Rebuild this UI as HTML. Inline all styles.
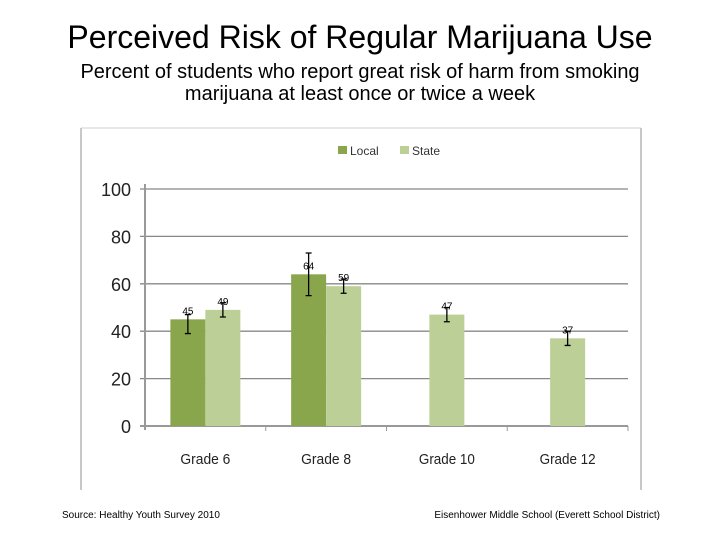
<!DOCTYPE html>
<html><head><meta charset="utf-8"><style>
body{margin:0;width:720px;height:540px;background:#fff;font-family:"Liberation Sans",sans-serif;overflow:hidden}
</style></head><body>
<svg width="720" height="540" xmlns="http://www.w3.org/2000/svg" font-family="Liberation Sans, sans-serif">
<text x="360" y="48" font-size="32" text-anchor="middle">Perceived Risk of Regular Marijuana Use</text>
<text x="360" y="78" font-size="20" text-anchor="middle">Percent of students who report great risk of harm from smoking</text>
<text x="360" y="100" font-size="20" text-anchor="middle">marijuana at least once or twice a week</text>
<line x1="81" y1="128" x2="641" y2="128" stroke="#d0d0d0"/>
<line x1="81" y1="128" x2="81" y2="490" stroke="#c8c8c8" stroke-width="2"/>
<line x1="641" y1="128" x2="641" y2="490" stroke="#c8c8c8" stroke-width="2"/>
<g>
<rect x="338" y="146" width="9" height="8" fill="#8aa64d"/>
<text x="350" y="155" font-size="12" fill="#333">Local</text>
<rect x="400" y="146" width="9" height="8" fill="#bccf97"/>
<text x="412" y="155" font-size="12" fill="#333">State</text>
</g>
<g id="plot"></g>
<text x="62" y="518" font-size="10">Source: Healthy Youth Survey 2010</text>
<text x="660" y="518" font-size="10" text-anchor="end">Eisenhower Middle School (Everett School District)</text>
</svg>
<script>
const categories=["Grade 6","Grade 8","Grade 10","Grade 12"];
const localVals=[45,64,null,null];
const stateVals=[49,59,47,37];
const localErrLo=[39,55,null,null];
const localErrHi=[47,73,null,null];
const stateErrLo=[46,56,44,34];
const stateErrHi=[52,62,50,40];
const yTicks=[0,20,40,60,80,100];
const NS="http://www.w3.org/2000/svg";
const g=document.getElementById('plot');
const x0=145,x1=628,y0=426,y1=189;
const y=v=>y0-(v/100)*(y0-y1);
const slot=(x1-x0)/categories.length;
const cx=i=>x0+slot*(i+0.5);
const bw=35;
function mk(t,a){const e=document.createElementNS(NS,t);for(const k in a)e.setAttribute(k,a[k]);g.appendChild(e);return e;}
yTicks.forEach(t=>{
 const l=mk('line',{x1:x0-5,x2:x1,y1:y(t),y2:y(t),stroke:t===0?'#999':'#888','stroke-width':t===0?2:1.3});
 
 
 const tx=mk('text',{x:131,y:y(t)+7,'font-size':18,'text-anchor':'end',fill:'#222'});tx.textContent=t;
 
 
});
const ax=mk('line',{x1:x0,x2:x0,y1:y1-5,y2:y0+4,stroke:'#999','stroke-width':2});


categories.forEach((c,i)=>{
 const tk=mk('line',{x1:x0+slot*(i+1),x2:x0+slot*(i+1),y1:y0,y2:y0+5,stroke:'#999'});
 
 
 const t=mk('text',{x:cx(i),y:464,'font-size':15,'text-anchor':'middle',fill:'#222',textLength:c.length>7?56:50,lengthAdjust:'spacingAndGlyphs'});t.textContent=c;
 
 
});
function bar(v,lo,hi,xl,fill,name){
 const r=mk('rect',{x:xl,y:y(v),width:bw,height:y0-y(v),fill:fill});
 
 
 const m=xl+bw/2;
 const e=mk('path',{d:`M${m},${y(lo)}V${y(hi)}M${m-3},${y(lo)}H${m+3}M${m-3},${y(hi)}H${m+3}`,stroke:'#000','stroke-width':1.3,fill:'none'});
 
 
 const t=mk('text',{x:m,y:y(v)-5,'font-size':10,'text-anchor':'middle'});t.textContent=v;
 
 
}
categories.forEach((c,i)=>{
 if(localVals[i]!=null)bar(localVals[i],localErrLo[i],localErrHi[i],cx(i)-bw,'#8aa64d','bar-local-'+i);
 if(stateVals[i]!=null)bar(stateVals[i],stateErrLo[i],stateErrHi[i],localVals[i]!=null?cx(i):cx(i)-bw/2,'#bccf97','bar-state-'+i);
});
</script>
</body></html>
